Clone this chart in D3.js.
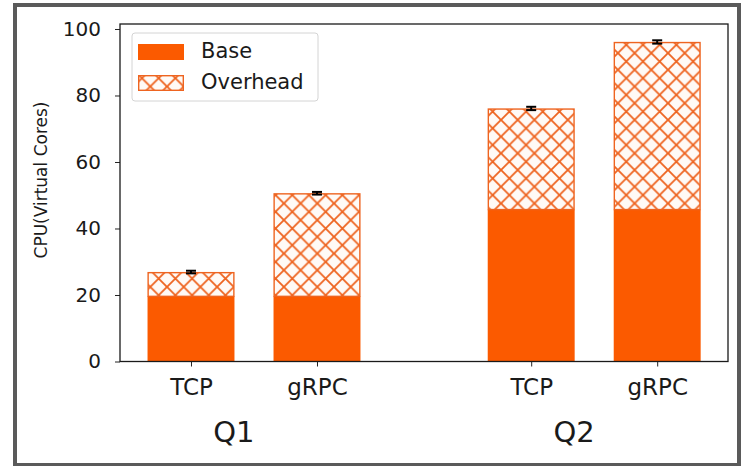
<!DOCTYPE html>
<html>
<head>
<meta charset="utf-8">
<script src="https://cdn.jsdelivr.net/npm/d3@7"></script>
<style>
  html, body { margin: 0; padding: 0; background: #fff; }
  svg { display: block; font-family: "DejaVu Sans", sans-serif; }
</style>
</head>
<body>
<svg id="chart" width="746" height="466"></svg>
<script>
// CPU cost per transport, split into base work and protocol overhead
const groups = ["Q1", "Q2"];
const transports = ["TCP", "gRPC"];
const baseValues = [19.6, 19.6, 45.7, 45.7];
const overheadValues = [7.3, 31.0, 30.4, 50.4];
const errorValues = [0.4, 0.4, 0.5, 0.5];
const yTicks = [0, 20, 40, 60, 80, 100];
const seriesNames = ["Base", "Overhead"];

const orange = "#fb5a00";
const hatchColor = "#ee6420";

const svg = d3.select("#chart");

// outer frame around the figure
svg.append("rect")
  .attr("x", 15).attr("y", 5).attr("width", 724).attr("height", 460)
  .attr("fill", "none").attr("stroke", "#5a5a5a").attr("stroke-width", 4);

// cross hatch pattern for the overhead segment
const defs = svg.append("defs");
const ps = 16.7;
const pat = defs.append("pattern")
  .attr("id", "xhatch").attr("patternUnits", "userSpaceOnUse")
  .attr("width", ps).attr("height", ps)
  .attr("x", 0).attr("y", 3);
pat.append("rect").attr("width", ps).attr("height", ps).attr("fill", "#fffaf6");
pat.append("path")
  .attr("d", `M${-2},${-2}L${ps + 2},${ps + 2}M${-2},${ps + 2}L${ps + 2},${-2}`)
  .attr("stroke", hatchColor).attr("stroke-width", 1.8);

// bar slots: one per transport inside each group, groups separated by a gap
const bars = [];
groups.forEach((g, gi) => {
  transports.forEach((t, ti) => {
    const i = gi * transports.length + ti;
    bars.push({
      group: g, label: t, pos: gi * 2.7 + ti,
      base: baseValues[i], overhead: overheadValues[i], err: errorValues[i]
    });
  });
});

const plotL = 120, plotR = 728, plotT = 24, plotB = 361.5;
const x = d3.scaleLinear().domain([-0.5635, 4.262]).range([plotL, plotR]);
const y = d3.scaleLinear().domain([0, 101.5]).range([plotB, plotT]);
const bw = 0.69;
const bwPx = x(bw) - x(0);

const plot = svg.append("g");

// base segment
plot.selectAll("rect.base").data(bars).join("rect")
  .attr("class", "base")
  .attr("x", d => x(d.pos) - bwPx / 2)
  .attr("width", bwPx)
  .attr("y", d => y(d.base))
  .attr("height", d => y(0) - y(d.base))
  .attr("fill", orange);

// overhead segment stacked on base
plot.selectAll("rect.over").data(bars).join("rect")
  .attr("class", "over")
  .attr("x", d => x(d.pos) - bwPx / 2 + 0.6)
  .attr("width", bwPx - 1.2)
  .attr("y", d => y(d.base + d.overhead) + 0.6)
  .attr("height", d => y(d.base) - y(d.base + d.overhead) - 0.6)
  .attr("fill", "url(#xhatch)")
  .attr("stroke", hatchColor).attr("stroke-width", 1.4);

// error bars on the totals
const capW = 5;
const eb = plot.selectAll("g.err").data(bars).join("g").attr("class", "err");
eb.append("line")
  .attr("x1", d => x(d.pos)).attr("x2", d => x(d.pos))
  .attr("y1", d => y(d.base + d.overhead - d.err))
  .attr("y2", d => y(d.base + d.overhead + d.err))
  .attr("stroke", "#000").attr("stroke-width", 2);
["-", "+"].forEach(s => {
  eb.append("line")
    .attr("x1", d => x(d.pos) - capW).attr("x2", d => x(d.pos) + capW)
    .attr("y1", d => y(d.base + d.overhead + (s === "+" ? d.err : -d.err)))
    .attr("y2", d => y(d.base + d.overhead + (s === "+" ? d.err : -d.err)))
    .attr("stroke", "#000").attr("stroke-width", 2);
});

// axes
const yAxis = svg.append("g")
  .attr("transform", `translate(${plotL},0)`)
  .call(d3.axisLeft(y).tickValues(yTicks).tickSize(5).tickSizeOuter(0).tickPadding(14));
yAxis.selectAll("text").attr("font-size", 20).attr("fill", "#1a1a1a")
  .attr("font-family", "DejaVu Sans");
yAxis.select(".domain").remove();
yAxis.selectAll(".tick line").attr("stroke", "#222");

const xAxis = svg.append("g")
  .attr("transform", `translate(0,${plotB})`)
  .call(d3.axisBottom(x).tickValues(bars.map(d => d.pos))
    .tickFormat((v, i) => bars[i].label).tickSize(5).tickSizeOuter(0).tickPadding(12));
xAxis.selectAll("text").attr("font-size", 23).attr("fill", "#1a1a1a")
  .attr("font-family", "DejaVu Sans");
xAxis.select(".domain").remove();
xAxis.selectAll(".tick line").attr("stroke", "#222");

// spines
svg.append("rect")
  .attr("x", plotL).attr("y", plotT).attr("width", plotR - plotL).attr("height", plotB - plotT)
  .attr("fill", "none").attr("stroke", "#1a1a1a").attr("stroke-width", 1.3);

// group labels
svg.selectAll("text.group").data(groups).join("text")
  .attr("class", "group")
  .attr("x", (g, gi) => x(gi * 2.7 + 0.34))
  .attr("y", 442)
  .attr("text-anchor", "middle")
  .attr("font-size", 29).attr("fill", "#1a1a1a")
  .text(g => g);

// y axis title
svg.append("text")
  .attr("transform", "translate(47,180) rotate(-90)")
  .attr("text-anchor", "middle")
  .attr("font-size", 17).attr("fill", "#1a1a1a")
  .text("CPU(Virtual Cores)");

// legend
const lg = svg.append("g");
lg.append("rect")
  .attr("x", 132).attr("y", 33).attr("width", 186).attr("height", 68)
  .attr("rx", 3).attr("fill", "#fff").attr("fill-opacity", 0.8)
  .attr("stroke", "#d4d4d4").attr("stroke-width", 1);
lg.append("rect")
  .attr("x", 138).attr("y", 44).attr("width", 46).attr("height", 16)
  .attr("fill", orange);
lg.append("rect")
  .attr("x", 138.7).attr("y", 75.7).attr("width", 44.6).attr("height", 14.6)
  .attr("fill", "url(#xhatch)")
  .attr("stroke", hatchColor).attr("stroke-width", 1.4);
lg.selectAll("text.leg").data(seriesNames).join("text")
  .attr("class", "leg")
  .attr("x", 201)
  .attr("y", (d, i) => 58 + i * 31)
  .attr("font-size", 21).attr("fill", "#1a1a1a")
  .text(d => d);
</script>
</body>
</html>
